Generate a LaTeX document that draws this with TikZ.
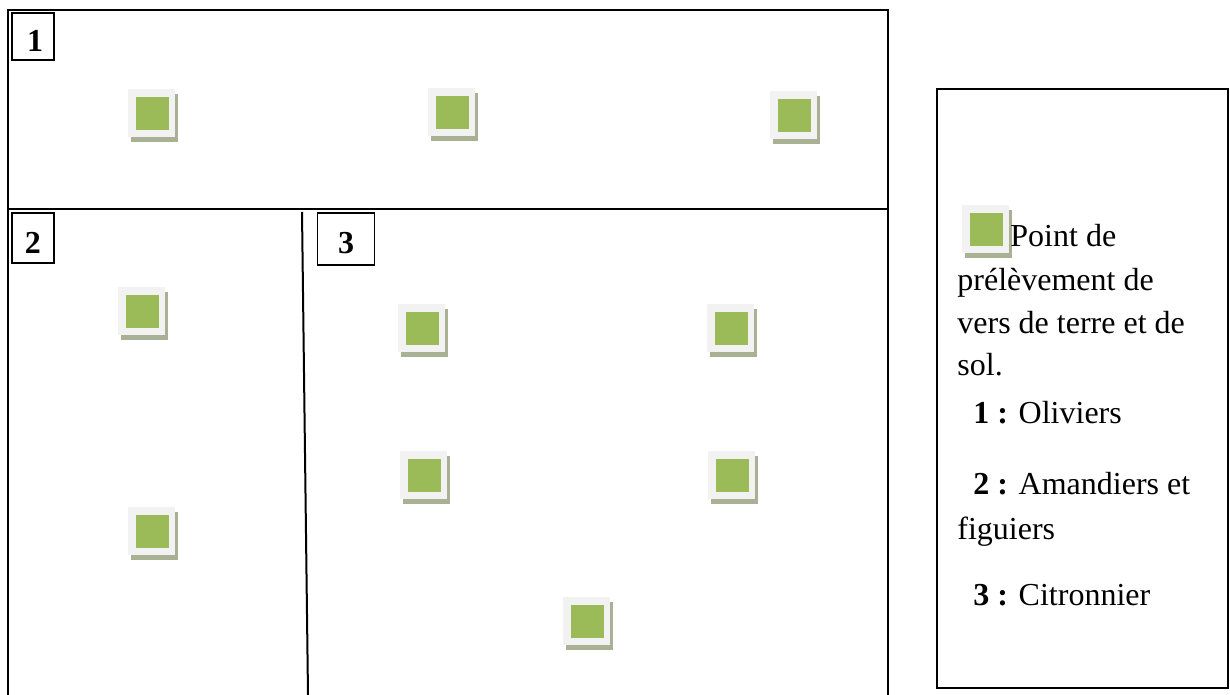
\documentclass[tikz,border=0pt]{standalone}
\usepackage{fontspec}
\setmainfont{Liberation Serif}
\definecolor{leafgreen}{HTML}{9BBB59}
\definecolor{framegray}{HTML}{F2F2F2}
\definecolor{shadowc}{HTML}{A8B194}
\begin{document}
\begin{tikzpicture}[x=0.5pt,y=-0.5pt,
  font=\fontsize{16pt}{21.5pt}\selectfont,
  line/.style={line width=1pt},
  marker/.style={fill=framegray, draw=none, inner sep=0pt,
    minimum width=23.5pt, minimum height=24pt,
    preaction={fill=shadowc, transform canvas={shift={(1.5pt,-2.5pt)}}},
    path picture={\fill[leafgreen]
      ([shift={(4pt,-4pt)}]path picture bounding box.north west) rectangle
      ([shift={(-3pt,3.5pt)}]path picture bounding box.south east);}},
  numbox/.style={draw, line width=0.8pt, inner sep=0pt},
  numlabel/.style={inner sep=0pt, font=\fontsize{16pt}{19pt}\selectfont\bfseries},
  legtext/.style={anchor=base west, inner sep=0pt}]
\useasboundingbox (0,0) rectangle (1230,695);
% outer plot
\coordinate (obl) at (8,695);
\coordinate (otl) at (8,10);
\coordinate (otr) at (888,10);
\coordinate (obr) at (888,695);
\coordinate (hl) at (8,209);
\coordinate (hr) at (888,209);
\coordinate (vt) at (302,212);
\coordinate (vb) at (308,695);
\draw[line] (obl) -- (otl) -- (otr) -- (obr);
\draw[line] (hl) -- (hr);
\draw[line] (vt) -- (vb);
% number boxes
\node[numbox, minimum width=21pt, minimum height=23.5pt] (b1) at (33,36.5) {};
\node[numbox, minimum width=21pt, minimum height=25pt] (b2) at (33,238) {};
\node[numbox, minimum width=28.5pt, minimum height=26pt] (b3) at (346,239) {};
\node[numlabel] (l1) at (35,41) {1};
\node[numlabel] (l2) at (33,243) {2};
\node[numlabel] (l3) at (346,243) {3};
% markers
\node[marker] (m1) at (151,113) {};
\node[marker] (m2) at (451,112) {};
\node[marker] (m3) at (793,115) {};
\node[marker] (m4) at (141,311) {};
\node[marker] (m5) at (151,531) {};
\node[marker] (m6) at (421,328) {};
\node[marker] (m7) at (730,328) {};
\node[marker] (m8) at (423,475) {};
\node[marker] (m9) at (731,475) {};
\node[marker] (m10) at (586,621) {};
% legend
\coordinate (ltl) at (937,89);
\coordinate (lbr) at (1228,688);
\draw[line] (ltl) rectangle (lbr);
\node[marker] (lm) at (985,229) {};
\node[legtext] (t1) at (1010,247) {Point de};
\node[legtext] (t2) at (957,290) {prélèvement de};
\node[legtext] (t3) at (957,333) {vers de terre et de};
\node[legtext] (t4) at (957,375) {sol.};
\node[legtext] (t5) at (973,423) {\textbf{1 :} Oliviers};
\node[legtext] (t6) at (973,494) {\textbf{2 :} Amandiers et};
\node[legtext] (t7) at (957,539) {figuiers};
\node[legtext] (t8) at (973,605) {\textbf{3 :} Citronnier};
\end{tikzpicture}
\end{document}
